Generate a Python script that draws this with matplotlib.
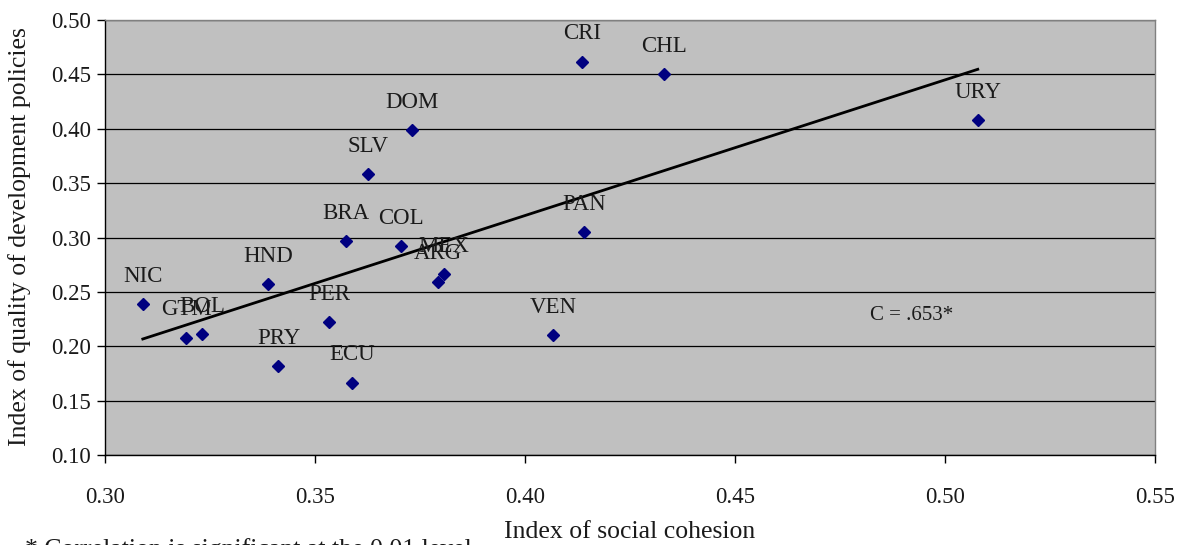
import numpy as np
import matplotlib.pyplot as plt

# --- Dados ---
countries = ["NIC", "GTM", "BOL", "HND", "PRY", "PER", "ECU", "BRA", "SLV",
             "COL", "DOM", "ARG", "MEX", "VEN", "CRI", "PAN", "CHL", "URY"]
social_cohesion = [0.309, 0.3194, 0.3231, 0.3389, 0.3413, 0.3534, 0.3589, 0.3573, 0.3626,
                   0.3704, 0.3730, 0.3793, 0.3806, 0.4067, 0.4135, 0.4140, 0.4331, 0.5078]
policy_quality = [0.239, 0.208, 0.211, 0.257, 0.182, 0.222, 0.1665, 0.297, 0.358,
                  0.292, 0.399, 0.2594, 0.2661, 0.2106, 0.4617, 0.3048, 0.4505, 0.4078]
x_ticks = [0.30, 0.35, 0.40, 0.45, 0.50, 0.55]
y_ticks = [0.10, 0.15, 0.20, 0.25, 0.30, 0.35, 0.40, 0.45, 0.50]
corr_text = "C = .653*"
note_text = "* Correlation is significant at the 0.01 level"

plt.rcParams["font.family"] = ["Liberation Serif", "DejaVu Serif"]

W, H = 1184, 545
fig = plt.figure(figsize=(W / 100, H / 100), dpi=100)
ax = fig.add_axes([105 / W, 90 / H, 1050 / W, 435 / H])
ax.set_facecolor("#C0C0C0")

# pontos
ax.plot(social_cohesion, policy_quality, linestyle="none", marker="D", markersize=6,
        color="#000080", zorder=3)

# linha de tendência (mínimos quadrados)
coef = np.polyfit(social_cohesion, policy_quality, 1)
xs = np.array([min(social_cohesion), max(social_cohesion)])
ax.plot(xs, np.polyval(coef, xs), color="black", linewidth=2, zorder=2)

# rótulos dos países
for name, xv, yv in zip(countries, social_cohesion, policy_quality):
    ax.annotate(name, (xv, yv), xytext=(0, 16), textcoords="offset points",
                ha="center", va="baseline", fontsize=16.5, color="#1a1a1a", zorder=4)

ax.text(0.4821, 0.2287, corr_text, ha="left", va="center", fontsize=15, color="#1a1a1a")

# --- Eixos ---
ax.set_xlim(0.30, 0.55)
ax.set_ylim(0.10, 0.50)
ax.set_xticks(x_ticks)
ax.set_yticks(y_ticks)
ax.set_xticklabels([f"{v:.2f}" for v in x_ticks])
ax.set_yticklabels([f"{v:.2f}" for v in y_ticks])
ax.tick_params(direction="out", length=6, width=1, labelsize=16.5, colors="black")
ax.tick_params(axis="x", pad=17)
ax.tick_params(axis="y", pad=4)
for lab in ax.get_xticklabels() + ax.get_yticklabels():
    lab.set_color("#1a1a1a")

ax.yaxis.grid(True, color="black", linewidth=0.9)
ax.set_axisbelow(True)
for side in ["left", "bottom"]:
    ax.spines[side].set_color("black")
    ax.spines[side].set_linewidth(1)
for side in ["top", "right"]:
    ax.spines[side].set_color("#808080")
    ax.spines[side].set_linewidth(1)

fig.text(630 / W, 1 - 538 / H, "Index of social cohesion", ha="center", va="baseline",
         fontsize=18.5, color="#1a1a1a")
fig.text(20 / W, 1 - 237 / H, "Index of quality of development policies", rotation=90,
         ha="center", va="center", fontsize=18.5, color="#1a1a1a")
# nota de rodapé, cortada na borda inferior como no original
fig.text(25 / W, 1 - 556 / H, note_text, ha="left", va="baseline", fontsize=18.5,
         color="#1a1a1a")

fig.savefig("out.png", dpi=100)
plt.close(fig)
